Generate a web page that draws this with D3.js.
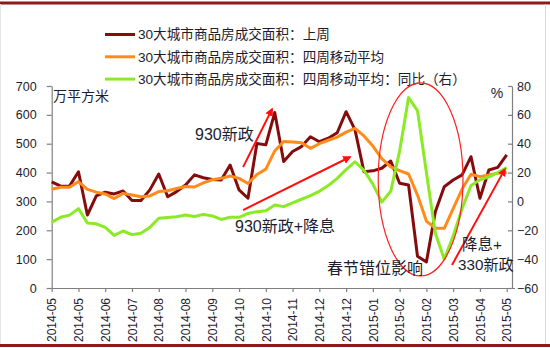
<!DOCTYPE html>
<html>
<head>
<meta charset="utf-8">
<script src="https://cdn.jsdelivr.net/npm/d3@7"></script>
<style>
  html, body { margin: 0; padding: 0; background: #fff; }
  svg { display: block; font-family: "Liberation Sans", "Noto Sans CJK SC", sans-serif; }
</style>
</head>
<body>
<svg id="chart" width="550" height="348"></svg>
<script>
// Series names (legend order)
const seriesNames = [
  "30大城市商品房成交面积：上周",
  "30大城市商品房成交面积：四周移动平均",
  "30大城市商品房成交面积：四周移动平均：同比（右）"
];

// Weekly transaction area, 10k m² (left axis)
const weeklyArea = [
  368, 353, 353, 403, 253, 319, 332, 326, 336, 303,
  303, 340, 395, 316, 334, 357, 392, 382, 376, 374,
  426, 340, 311, 501, 496, 608, 438, 473, 490, 524,
  507, 519, 538, 611, 548, 403, 406, 415, 440, 363,
  357, 110,  90, 264, 351, 374, 392, 455, 311, 409,
  418, 461
];

// Four-week moving average, 10k m² (left axis)
const movingAvg = [
  342, 349, 349, 369, 342, 332, 326, 310, 328, 322,
  316, 319, 334, 337, 345, 352, 350, 364, 375, 380,
  388, 380, 362, 393, 412, 475, 508, 506, 503, 484,
  500, 512, 523, 540, 553, 527, 492, 448, 420, 407,
  395, 322, 232, 207, 207, 275, 343, 394, 386, 392,
  398, 401
];

// Four-week moving average, year-on-year change, % (right axis)
const movingAvgYoY = [
  -14.5, -11, -9.5, -5, -15, -15.5, -18, -23.5, -20.5, -23,
  -22, -18, -11.7, -11.2, -10.6, -9.4, -10.5, -9, -10, -12.5,
  -11, -11, -8.3, -7.1, -6.5, -2.5, -3.6, -1, 1.5, 4,
  7, 11, 16, 22, 27.5, 21.5, 12, -0.5, 7, 35,
  72, 63, 20, -22, -40, -24, -5, 11, 15, 17,
  20, 23.5
];

// Category labels, one every third week
const tickLabels = [
  "2014-05", "2014-05", "2014-06", "2014-07", "2014-08", "2014-08",
  "2014-09", "2014-10", "2014-10", "2014-11", "2014-12", "2014-12",
  "2015-01", "2015-02", "2015-02", "2015-03", "2015-04", "2015-05"
];

const leftTicks = d3.range(0, 701, 100);
const rightTicks = d3.range(-60, 81, 20);

const colors = ["#840c0c", "#ff8c1a", "#8aea26"];
const textColor = "#1d1d2e";

const svg = d3.select("#chart");

const plot = { left: 51.7, right: 512, top: 86, bottom: 288 };
const weeks = d3.range(weeklyArea.length);

const x = d3.scaleLinear()
  .domain([0, weeks.length - 1])
  .range([plot.left, 506.7]);
const yL = d3.scaleLinear().domain([0, 700]).range([plot.bottom, plot.top]);
const yR = d3.scaleLinear().domain([-60, 80]).range([plot.bottom, plot.top]);

// Frame: dark red rules at top and bottom, faint grey sides
svg.append("line").attr("x1", 0).attr("x2", 550).attr("y1", 3).attr("y2", 3)
  .attr("stroke", "#8e1b1b").attr("stroke-width", 3);
svg.append("line").attr("x1", 0).attr("x2", 550).attr("y1", 345.5).attr("y2", 345.5)
  .attr("stroke", "#8e1b1b").attr("stroke-width", 3);
svg.append("line").attr("x1", 545.5).attr("x2", 545.5).attr("y1", 4).attr("y2", 344)
  .attr("stroke", "#d8d8d8").attr("stroke-width", 1);
svg.append("line").attr("x1", 0.5).attr("x2", 0.5).attr("y1", 4).attr("y2", 344)
  .attr("stroke", "#e4e4e4").attr("stroke-width", 1);

// Axes
const axisColor = "#7f7f7f";
function styleAxis(g) {
  g.select(".domain").attr("stroke", axisColor).attr("stroke-width", 1.2);
  g.selectAll(".tick line").attr("stroke", axisColor).attr("stroke-width", 1.2);
  g.selectAll(".tick text").attr("fill", textColor)
    .style("font-size", "12.5px")
    .style("font-family", "'Liberation Sans', sans-serif");
}

const gLeft = svg.append("g").attr("transform", `translate(${plot.left},0)`)
  .call(d3.axisLeft(yL).tickValues(leftTicks).tickSize(5).tickSizeOuter(0).tickPadding(10));
styleAxis(gLeft);

const gRight = svg.append("g").attr("transform", `translate(${plot.right},0)`)
  .call(d3.axisRight(yR).tickValues(rightTicks).tickSize(-4).tickSizeOuter(0).tickPadding(8));
styleAxis(gRight);
gRight.selectAll(".tick text").attr("x", 5);

const tickIdx = tickLabels.map((_, i) => i * 3);
const gBottom = svg.append("g").attr("transform", `translate(0,${plot.bottom})`)
  .call(d3.axisBottom(x).tickValues(tickIdx).tickFormat((d, i) => tickLabels[i])
    .tickSize(4).tickSizeOuter(0));
styleAxis(gBottom);
gBottom.select(".domain").attr("d", `M${plot.left},0.5H${plot.right + 3}`);
gBottom.selectAll(".tick text")
  .style("font-size", "12px")
  .attr("transform", "rotate(-90)")
  .attr("text-anchor", "end")
  .attr("x", -10)
  .attr("y", 0)
  .attr("dy", "0.35em");

// Axis units
svg.append("text").attr("x", 53).attr("y", 96).attr("dy", "0.35em")
  .attr("fill", textColor).style("font-size", "14px").text("万平方米");
svg.append("text").attr("x", 497).attr("y", 93).attr("dy", "0.35em")
  .attr("text-anchor", "middle")
  .attr("fill", textColor).style("font-size", "14px").text("%");

// Lines
const lineL = d3.line().x((d, i) => x(i)).y(d => yL(d));
const lineR = d3.line().x((d, i) => x(i)).y(d => yR(d));

svg.append("path").datum(weeklyArea).attr("d", lineL)
  .attr("fill", "none").attr("stroke", colors[0]).attr("stroke-width", 3)
  .attr("stroke-linejoin", "round");
svg.append("path").datum(movingAvg).attr("d", lineL)
  .attr("fill", "none").attr("stroke", colors[1]).attr("stroke-width", 3)
  .attr("stroke-linejoin", "round");
svg.append("path").datum(movingAvgYoY).attr("d", lineR)
  .attr("fill", "none").attr("stroke", colors[2]).attr("stroke-width", 3)
  .attr("stroke-linejoin", "round");

// Legend
const legend = svg.append("g");
seriesNames.forEach((name, i) => {
  const yy = 34.5 + i * 22.3;
  legend.append("line").attr("x1", 105).attr("x2", 135).attr("y1", yy).attr("y2", yy)
    .attr("stroke", colors[i]).attr("stroke-width", 3);
  legend.append("text").attr("x", 138).attr("y", yy).attr("dy", "0.36em")
    .attr("fill", textColor).style("font-size", "13.6px").text(name);
});

// Annotations: arrows, event ellipse, notes
const defs = svg.append("defs");
defs.append("marker").attr("id", "arrowHead")
  .attr("viewBox", "0 0 10 10").attr("refX", 8).attr("refY", 5)
  .attr("markerWidth", 4.2).attr("markerHeight", 4.2)
  .attr("orient", "auto")
  .append("path").attr("d", "M0,0L10,5L0,10Z").attr("fill", "#ff1010");

function arrow(i0, v0, i1, v1) {
  svg.append("line")
    .attr("x1", x(i0)).attr("y1", yL(v0))
    .attr("x2", x(i1)).attr("y2", yL(v1))
    .attr("stroke", "#ff1010").attr("stroke-width", 2)
    .attr("marker-end", "url(#arrowHead)");
}
arrow(21.45, 419, 24.7, 620);
arrow(21.45, 270, 33.44, 454);
arrow(44.87, 80, 50.8, 412);

// Ellipse around the Spring Festival weeks
const eL = x(36.6), eR = x(46.1), eT = yL(711), eB = yL(41.6);
svg.append("ellipse")
  .attr("cx", (eL + eR) / 2).attr("cy", (eT + eB) / 2)
  .attr("rx", (eR - eL) / 2).attr("ry", (eB - eT) / 2)
  .attr("fill", "none").attr("stroke", "#ff2020").attr("stroke-width", 1.2);

function note(i, v, txt, size) {
  svg.append("text").attr("x", x(i)).attr("y", yL(v)).attr("dy", "0.36em")
    .attr("fill", textColor).style("font-size", (size || 16) + "px").text(txt);
}
note(16.07, 534, "930新政");
note(20.55, 215, "930新政+降息");
note(30.86, 69, "春节错位影响");
note(46.0, 152, "降息+", 15.5);
note(45.55, 83, "330新政", 15.2);
</script>
</body>
</html>
